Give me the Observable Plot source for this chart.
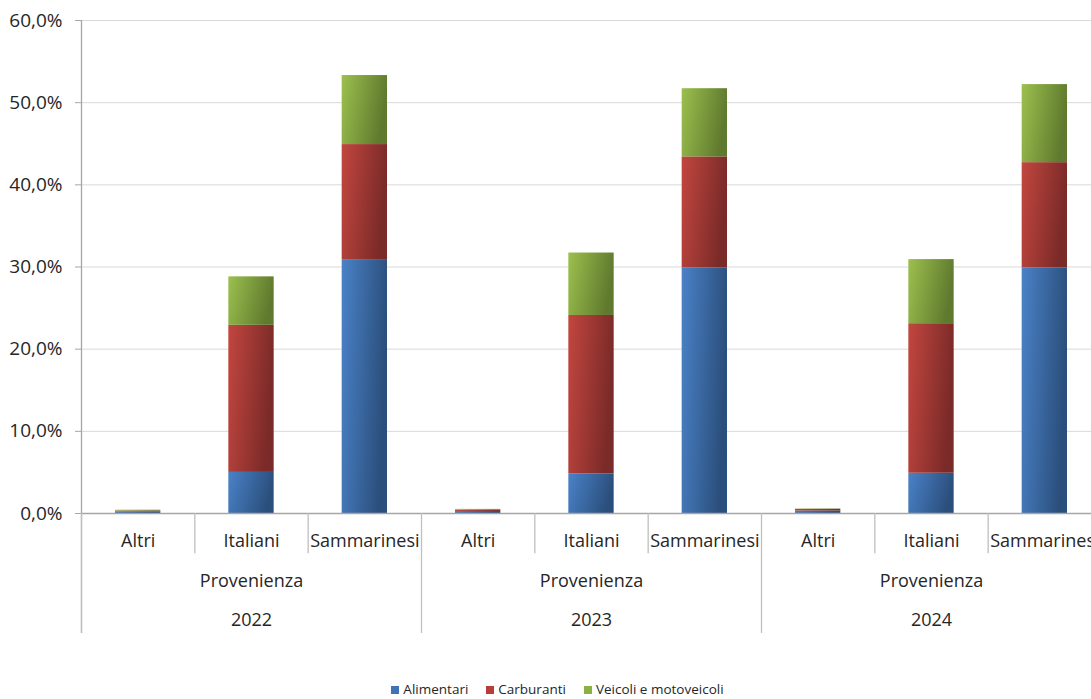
<!DOCTYPE html>
<html>
<head>
<meta charset="utf-8">
<script src="https://cdn.jsdelivr.net/npm/d3@7"></script>
<script src="https://cdn.jsdelivr.net/npm/@observablehq/plot@0.6"></script>
<style>
  html, body { margin: 0; padding: 0; background: #fff; overflow: hidden; }
  #legend { width: 1091px; box-sizing: border-box; padding-left: 24px; padding-top: 0px; text-align: center;
    font-family: "Open Sans", Lato, sans-serif; font-size: 13.5px; line-height: 14px; color: #262626; white-space: nowrap; }
  #legend span.item { display: inline-block; margin: 0 9px; }
  #legend span.sw { display: inline-block; width: 8px; height: 8px; margin-right: 4px; vertical-align: 0px; }
</style>
</head>
<body>
<div id="chart"></div>
<div id="legend"></div>
<script>
const years = ["2022", "2023", "2024"];
const groupLabel = "Provenienza";
const categories = ["Altri", "Italiani", "Sammarinesi"];
const series = ["Alimentari", "Carburanti", "Veicoli e motoveicoli"];
// values in %, order: 2022 (Altri, Italiani, Sammarinesi), 2023 (...), 2024 (...)
const alimentari = [0.2, 5.0, 30.9, 0.25, 4.8, 29.9, 0.3, 4.9, 29.9];
const carburanti = [0.1, 17.9, 14.0, 0.15, 19.3, 13.5, 0.2, 18.2, 12.8];
const veicoli = [0.1, 5.9, 8.4, 0.1, 7.6, 8.3, 0.05, 7.8, 9.5];
const yTicks = [0, 10, 20, 30, 40, 50, 60];

const seriesValues = [alimentari, carburanti, veicoli];
const gradIds = ["gBlue", "gRed", "gGreen"];

// build table
const cells = [];
years.forEach((yr, j) => categories.forEach((c, k) => cells.push({year: yr, cat: c, i: j * 3 + k})));
const rects = [];
cells.forEach(cell => {
  let base = 0;
  seriesValues.forEach((vals, s) => {
    const v = vals[cell.i];
    rects.push({i: cell.i, series: series[s], y1: base, y2: base + v, grad: gradIds[s]});
    base += v;
  });
});
const catSeps = cells.filter(d => d.i % 3 !== 0).map(d => d.i);
const groupSeps = [0, 3, 6, 9];
const catSepDepth = -4.9;    // separator length below the baseline, in axis units
const groupSepDepth = -14.6;

const fmt = d => d.toFixed(1).replace(".", ",") + "%";
const font = "'Open Sans', Lato, sans-serif";

const plot = Plot.plot({
  width: 1091,
  height: 682,
  marginTop: 20,
  marginLeft: 81,
  marginRight: 0,
  marginBottom: 169,
  style: {fontFamily: font, fontSize: "16px", color: "#262626", background: "#fff", overflow: "visible"},
  x: {domain: [0, 9], range: [81, 1101], axis: null},
  y: {domain: [0, 60], range: [513, 20], axis: null},
  marks: [
    Plot.ruleY(yTicks.filter(t => t > 0), {x1: 0, x2: 9, stroke: "#d9d9d9", strokeWidth: 1}),
    Plot.axisY(yTicks, {anchor: "left", tickSize: 6, tickPadding: 13, tickFormat: fmt, stroke: "#a6a6a6",
      fill: "#262626", fontSize: 19, label: null}),
    Plot.rectY(rects, {x1: d => d.i + 0.3, x2: d => d.i + 0.7, y1: "y1", y2: "y2", fill: d => `url(#${d.grad})`}),
    Plot.ruleY([0], {x1: 0, x2: 9, stroke: "#a6a6a6", strokeWidth: 1.3}),
    Plot.ruleX([0], {y1: groupSepDepth, y2: 60, stroke: "#a6a6a6", strokeWidth: 1.3}),
    Plot.ruleX(catSeps, {x: d => d, y1: 0, y2: catSepDepth, stroke: "#bfbfbf", strokeWidth: 1.3}),
    Plot.ruleX(groupSeps, {x: d => d, y1: 0, y2: groupSepDepth, stroke: "#bfbfbf", strokeWidth: 1.3}),
    Plot.text(cells, {x: d => d.i + 0.5, y: 0, text: "cat", dy: 28, fill: "#262626", fontSize: 18}),
    Plot.text(years, {x: (d, j) => j * 3 + 1.5, y: 0, text: () => groupLabel, dy: 68, fill: "#262626", fontSize: 18}),
    Plot.text(years, {x: (d, j) => j * 3 + 1.5, y: 0, text: d => d, dy: 107, fill: "#262626", fontSize: 18})
  ]
});

const defs = `
<defs>
  <linearGradient id="gBlue" x1="0" y1="0" x2="1" y2="0.25">
    <stop offset="0" stop-color="#4a82c8"/><stop offset="1" stop-color="#2b4f7c"/>
  </linearGradient>
  <linearGradient id="gRed" x1="0" y1="0" x2="1" y2="0.25">
    <stop offset="0" stop-color="#c3463f"/><stop offset="1" stop-color="#7a2a28"/>
  </linearGradient>
  <linearGradient id="gGreen" x1="0" y1="0" x2="1" y2="0.25">
    <stop offset="0" stop-color="#9cc04e"/><stop offset="1" stop-color="#5f7a2e"/>
  </linearGradient>
</defs>`;
d3.select(plot).insert("g", ":first-child").html(defs);
document.getElementById("chart").appendChild(plot);

const colors = ["#3f73b3", "#b83c3a", "#8cb044"];
const legend = d3.select("#legend");
series.forEach((s, k) => {
  const item = legend.append("span").attr("class", "item");
  item.append("span").attr("class", "sw").style("background", colors[k]);
  item.append("span").text(s);
});
</script>
</body>
</html>
